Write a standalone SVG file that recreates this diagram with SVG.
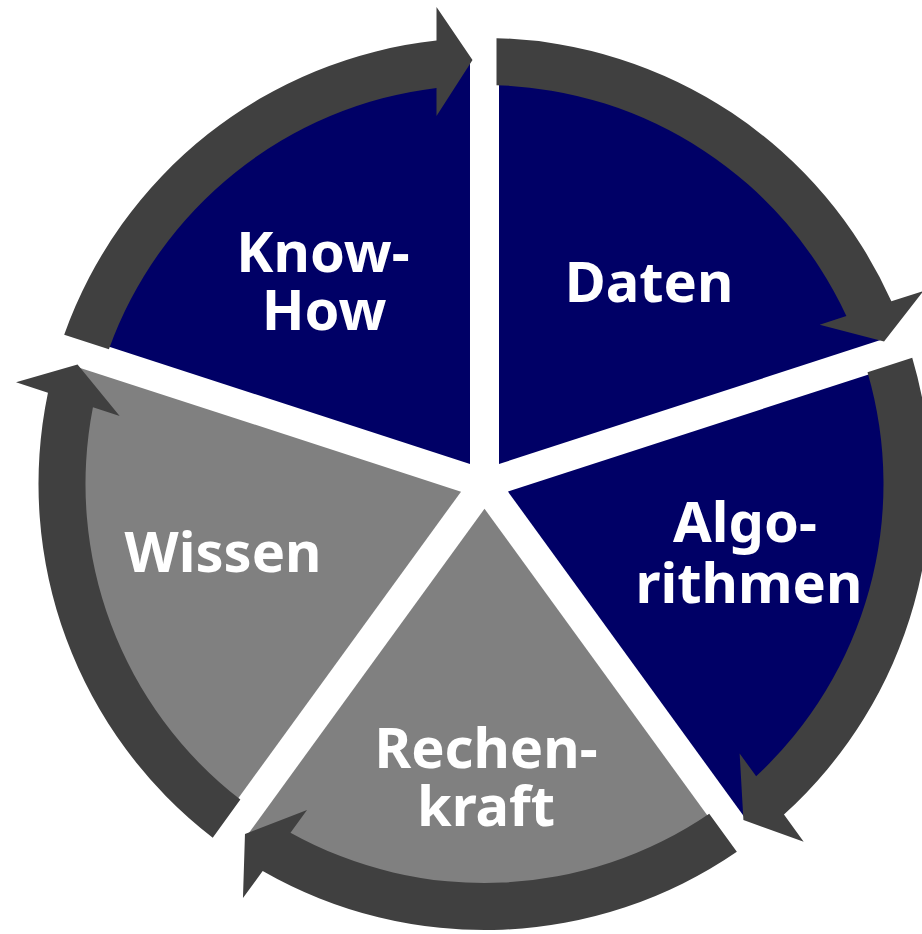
<svg xmlns="http://www.w3.org/2000/svg" xmlns:xlink="http://www.w3.org/1999/xlink" width="922" height="934" viewBox="0 0 922 934">
  <style>
    .blue { fill: #000066; }
    .gray { fill: #808080; }
    .arrow { fill: #404040; }
    .lbl { fill: #ffffff; font-family: "Noto Sans", "DejaVu Sans", sans-serif; font-weight: bold; font-size: 56px; text-anchor: middle; }
  </style>
  <defs>
    <path id="wedge" d="M 14.5,-19.96 L 14.5,-422.75 A 423 423 0 0 1 397.58,-144.43 Z"/>
    <path id="arc" d="M 12,-445.84 A 446 446 0 0 1 406.88,-182.67 L 438.82,-193.05 L 399.54,-142.43 L 335.16,-159.37 L 361.89,-168.05 A 399 399 0 0 0 12,-398.82 Z"/>
  </defs>
  <rect width="922" height="934" fill="#ffffff"/>
  <g id="daten">
    <use xlink:href="#wedge" class="blue" transform="translate(484.5,484)"/>
    <text class="lbl" x="649" y="302">Daten</text>
  </g>
  <g id="algorithmen">
    <use xlink:href="#wedge" class="blue" transform="translate(484.5,484) rotate(72)"/>
    <text class="lbl" x="745" y="542">Algo-</text>
    <text class="lbl" x="749" y="603">rithmen</text>
  </g>
  <g id="rechenkraft">
    <use xlink:href="#wedge" class="gray" transform="translate(484.5,484) rotate(144)"/>
    <text class="lbl" x="486" y="768">Rechen-</text>
    <text class="lbl" x="486" y="826">kraft</text>
  </g>
  <g id="wissen">
    <use xlink:href="#wedge" class="gray" transform="translate(484.5,484) rotate(216)"/>
    <text class="lbl" x="223" y="572">Wissen</text>
  </g>
  <g id="know-how">
    <use xlink:href="#wedge" class="blue" transform="translate(484.5,484) rotate(288)"/>
    <text class="lbl" x="323" y="272">Know-</text>
    <text class="lbl" x="324" y="330">How</text>
  </g>
  <g id="connectors">
    <use xlink:href="#arc" class="arrow" transform="translate(484.5,484)"/>
    <use xlink:href="#arc" class="arrow" transform="translate(484.5,484) rotate(72)"/>
    <use xlink:href="#arc" class="arrow" transform="translate(484.5,484) rotate(144)"/>
    <use xlink:href="#arc" class="arrow" transform="translate(484.5,484) rotate(216)"/>
    <use xlink:href="#arc" class="arrow" transform="translate(484.5,484) rotate(288)"/>
  </g>
</svg>
